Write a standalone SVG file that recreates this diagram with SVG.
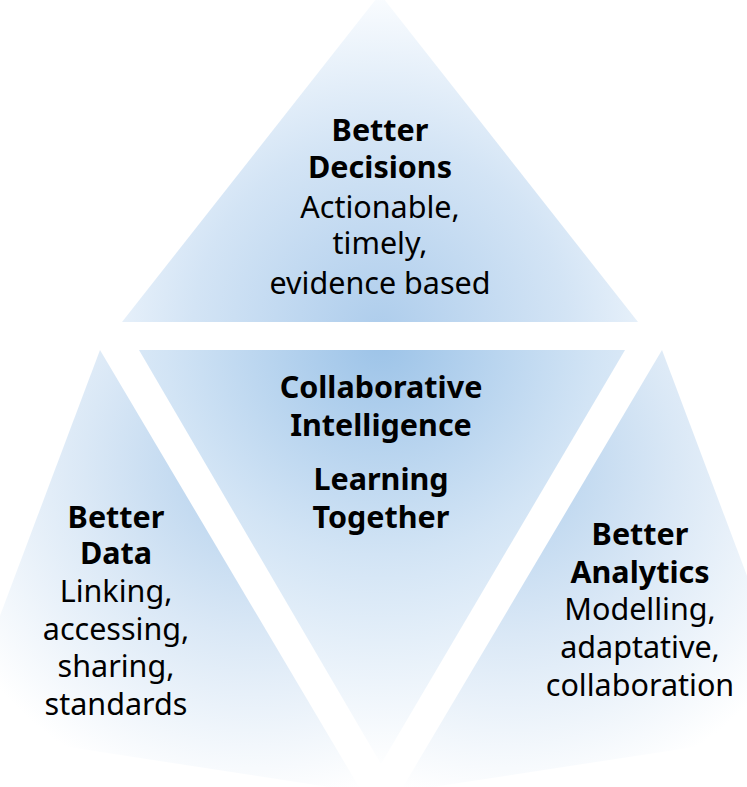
<svg xmlns="http://www.w3.org/2000/svg" width="747" height="787" viewBox="0 0 747 787">
  <defs>
    <radialGradient id="gTop" gradientUnits="userSpaceOnUse" cx="380" cy="330" r="340" fx="380" fy="330">
      <stop offset="0" stop-color="#aecdec"/>
      <stop offset="0.55" stop-color="#d3e4f5"/>
      <stop offset="1" stop-color="#fbfdff"/>
    </radialGradient>
    <radialGradient id="gCenter" gradientUnits="userSpaceOnUse" cx="381" cy="340" r="430" fx="381" fy="340">
      <stop offset="0" stop-color="#9cc3e8"/>
      <stop offset="0.5" stop-color="#d2e4f5"/>
      <stop offset="1" stop-color="#ffffff"/>
    </radialGradient>
    <radialGradient id="gLeft" gradientUnits="userSpaceOnUse" cx="255" cy="465" r="340" fx="255" fy="465">
      <stop offset="0" stop-color="#b1cfec"/>
      <stop offset="0.5" stop-color="#dae8f6"/>
      <stop offset="1" stop-color="#ffffff"/>
    </radialGradient>
    <radialGradient id="gRight" gradientUnits="userSpaceOnUse" cx="507" cy="465" r="340" fx="507" fy="465">
      <stop offset="0" stop-color="#b1cfec"/>
      <stop offset="0.5" stop-color="#dae8f6"/>
      <stop offset="1" stop-color="#ffffff"/>
    </radialGradient>
    <style>
      text { font-family: "Noto Sans", "Liberation Sans", sans-serif; font-size: 30.5px; fill: #000; text-anchor: middle; font-variant-ligatures: none; }
      .b { font-weight: bold; }
    </style>
  </defs>
  <rect width="747" height="787" fill="#ffffff"/>
  <g id="node-top">
    <polygon points="380,-6 638,322 122,322" fill="url(#gTop)"/>
    <text class="b" x="380" y="141">Better</text>
    <text class="b" x="380" y="178">Decisions</text>
    <text x="380" y="218">Actionable,</text>
    <text x="380" y="254">timely,</text>
    <text x="380" y="294">evidence based</text>
  </g>
  <g id="node-center">
    <polygon points="139,350 625,350 381,764" fill="url(#gCenter)"/>
    <text class="b" x="381" y="398">Collaborative</text>
    <text class="b" x="381" y="436">Intelligence</text>
    <text class="b" x="381" y="490">Learning</text>
    <text class="b" x="381" y="528">Together</text>
  </g>
  <g id="node-left">
    <polygon points="100,350 362,792 -43,730" fill="url(#gLeft)"/>
    <text class="b" x="116" y="528">Better</text>
    <text class="b" x="116" y="564">Data</text>
    <text x="116" y="602">Linking,</text>
    <text x="116" y="640">accessing,</text>
    <text x="116" y="677">sharing,</text>
    <text x="116" y="715">standards</text>
  </g>
  <g id="node-right">
    <polygon points="662,350 805,730 400,792" fill="url(#gRight)"/>
    <text class="b" x="640" y="545">Better</text>
    <text class="b" x="640" y="583">Analytics</text>
    <text x="640" y="620">Modelling,</text>
    <text x="640" y="658">adaptative,</text>
    <text x="640" y="696">collaboration</text>
  </g>
  <g id="connectors"/>
</svg>
